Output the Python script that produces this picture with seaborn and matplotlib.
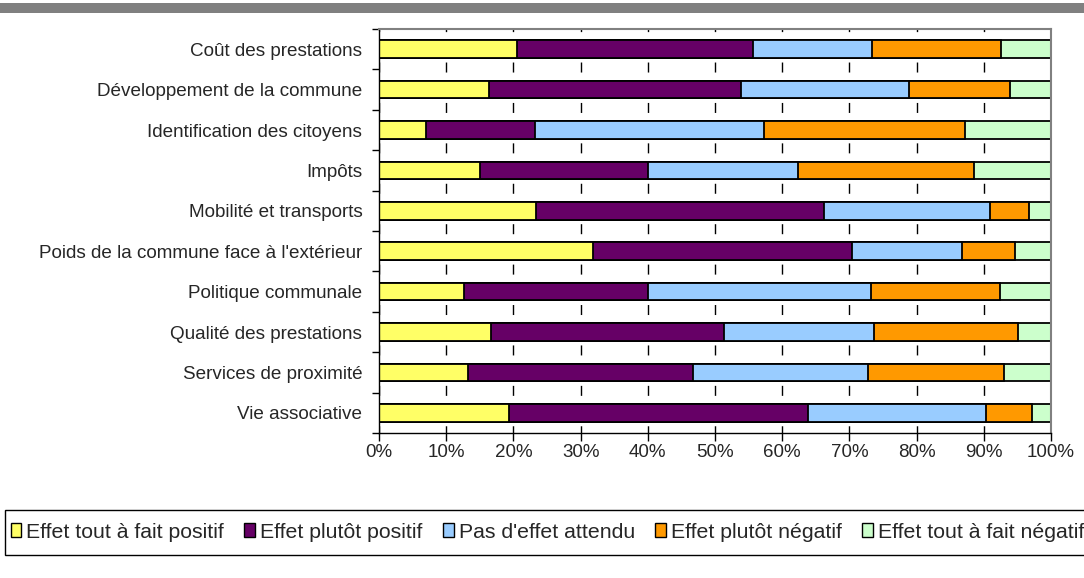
import numpy as np
import pandas as pd
import matplotlib
matplotlib.use("Agg")
import matplotlib.pyplot as plt
from matplotlib.patches import Patch, Rectangle
from matplotlib.ticker import PercentFormatter, MultipleLocator
import seaborn as sns

# data (percent of answers)
categories = ["Coût des prestations", "Développement de la commune",
              "Identification des citoyens", "Impôts", "Mobilité et transports",
              "Poids de la commune face à l'extérieur", "Politique communale",
              "Qualité des prestations", "Services de proximité", "Vie associative"]
tres_positif = [20.5, 16.4, 7.0, 15.1, 23.4, 31.8, 12.6, 16.6, 13.3, 19.4]
plutot_positif = [35.2, 37.4, 16.2, 24.9, 42.8, 38.6, 27.4, 34.8, 33.5, 44.4]
pas_effet = [17.7, 25.0, 34.1, 22.4, 24.7, 16.3, 33.2, 22.3, 25.9, 26.5]
plutot_negatif = [19.2, 15.1, 29.9, 26.2, 5.9, 8.0, 19.2, 21.4, 20.3, 6.9]
tres_negatif = [7.4, 6.1, 12.8, 11.4, 3.2, 5.3, 7.6, 4.9, 7.0, 2.8]

series = ["Effet tout à fait positif", "Effet plutôt positif", "Pas d'effet attendu",
          "Effet plutôt négatif", "Effet tout à fait négatif"]
colors = ["#ffff66", "#660066", "#99ccff", "#ff9900", "#ccffcc"]

df = pd.DataFrame({"cat": categories, series[0]: tres_positif, series[1]: plutot_positif,
                   series[2]: pas_effet, series[3]: plutot_negatif, series[4]: tres_negatif})
# normalise each row to 100 %
tot = df[series].sum(axis=1)
for s in series:
    df[s] = df[s] / tot * 100
cum = df[series].cumsum(axis=1)

sns.set_style("white")
plt.rcParams["font.family"] = ["Liberation Sans", "DejaVu Sans"]
plt.rcParams["lines.scale_dashes"] = False

fig = plt.figure(figsize=(10.84, 5.78), dpi=100)
ax = fig.add_axes([379 / 1084, 1 - 433 / 578, 672 / 1084, 404 / 578])

# stacked bars: draw cumulative totals from the longest to the shortest
for s, c in reversed(list(zip(series, colors))):
    sns.barplot(data=cum.assign(cat=df["cat"]), x=s, y="cat", orient="h", color=c,
                edgecolor="black", linewidth=1.3, width=0.44, saturation=1, ax=ax)

ax.set_xlim(0, 100)
ax.set_ylim(9.5, -0.5)
ax.set_xlabel("")
ax.set_ylabel("")
ax.xaxis.set_major_locator(MultipleLocator(10))
ax.xaxis.set_major_formatter(PercentFormatter(decimals=0))
ax.set_yticks(range(len(categories)))
ax.set_yticklabels(categories)
ax.set_yticks(np.arange(-0.5, 10, 1), minor=True)
ax.tick_params(axis="y", which="major", length=0, pad=12, labelsize=13.6)
ax.tick_params(axis="y", which="minor", length=5, width=1, color="black", direction="out", left=True)
ax.tick_params(axis="x", length=6, width=1, color="black", direction="out", bottom=True,
               pad=2, labelsize=13.5)

ax.set_axisbelow(True)
ax.grid(axis="x", color="black", lw=1, linestyle=(2, (7.2, 21.9)))
ax.grid(axis="y", visible=False)

for side in ["left", "bottom"]:
    ax.spines[side].set_color("black")
    ax.spines[side].set_linewidth(1)
for side in ["top", "right"]:
    ax.spines[side].set_color("#808080")
    ax.spines[side].set_linewidth(1.5)

# grey header band
fig.patches.append(Rectangle((0, 1 - 13 / 578), 1, 10 / 578, transform=fig.transFigure,
                             facecolor="#808080", edgecolor="none"))

# legend box running off the right edge
fig.patches.append(Rectangle((5 / 1084, 1 - 555 / 578), 1.1, 45 / 578, transform=fig.transFigure,
                             facecolor="white", edgecolor="black", lw=1))
handles = [Patch(facecolor=c, edgecolor="black", lw=1) for c in colors]
fig.legend(handles, series, loc="center left", bbox_to_anchor=(2 / 1084, 1 - 532 / 578),
           ncol=5, frameon=False, prop={"size": 15.3}, handlelength=0.5, handleheight=0.6,
           handletextpad=0.25, columnspacing=0.95, borderaxespad=0)

fig.savefig("out.png", dpi=100)
